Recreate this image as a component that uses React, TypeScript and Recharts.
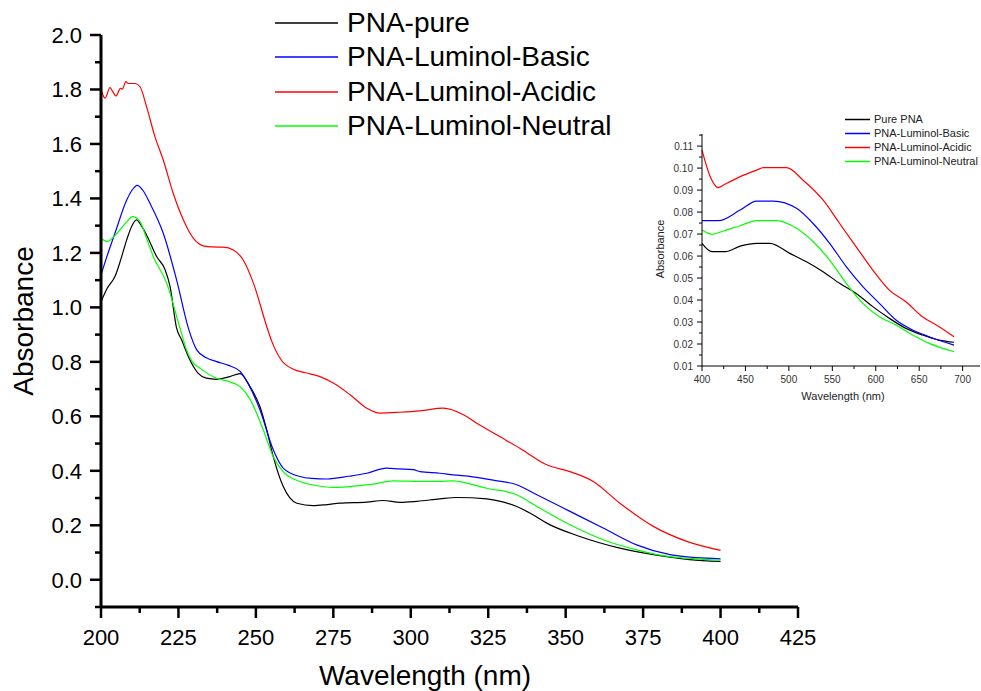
import React from 'react';
import { LineChart, Line, XAxis, YAxis, Label, Legend } from 'recharts';

// main spectrum, 200-400 nm
const pureWl = [200, 202, 204.5, 206.5, 208.3, 210, 211.5, 213, 214.7, 218, 220.7, 222.3, 224.4, 226, 228.7, 231.4, 234, 237.3, 241.6, 244.9, 248.1, 251.3, 253.5, 255.6, 258.8, 263.2, 268.5, 273, 277.1, 285.8, 291.1, 296.5, 302, 309.4, 314.8, 324.5, 330, 334.2, 340, 343.9, 354.6, 367.5, 383.7, 390, 400];
const pureAbs = [1.02, 1.07, 1.113, 1.18, 1.248, 1.3, 1.321, 1.3, 1.266, 1.186, 1.138, 1.076, 0.924, 0.881, 0.807, 0.758, 0.74, 0.736, 0.746, 0.757, 0.709, 0.636, 0.55, 0.452, 0.343, 0.281, 0.272, 0.276, 0.281, 0.285, 0.291, 0.284, 0.288, 0.297, 0.302, 0.297, 0.285, 0.269, 0.235, 0.208, 0.159, 0.116, 0.083, 0.074, 0.067];

const basicWl = [200, 202, 204.5, 208.3, 210, 211.7, 213.5, 215.8, 220.1, 224.4, 228.2, 230.9, 234, 237.3, 241, 244.9, 247.5, 251.3, 255.6, 258.8, 264.2, 268, 272.9, 280, 285.8, 292.2, 296, 300.8, 303, 309.4, 313.7, 320, 327, 334.2, 340.7, 351.4, 362.1, 372.9, 383.7, 392, 400];
const basicAbs = [1.119, 1.19, 1.272, 1.394, 1.43, 1.448, 1.43, 1.382, 1.272, 1.101, 0.924, 0.844, 0.815, 0.801, 0.788, 0.765, 0.72, 0.624, 0.477, 0.41, 0.379, 0.372, 0.37, 0.38, 0.391, 0.41, 0.407, 0.404, 0.397, 0.391, 0.385, 0.378, 0.365, 0.349, 0.312, 0.251, 0.19, 0.128, 0.092, 0.081, 0.077];

const acidicWl = [200, 201.3, 202.9, 203.8, 204.8, 206.3, 206.9, 208, 208.8, 211, 212.6, 214.7, 217.4, 220.1, 223.3, 226.6, 229.8, 233, 236, 239.5, 242.7, 245.9, 249.2, 253.5, 255.1, 258.3, 262.1, 266, 270.7, 275, 280.4, 285.8, 290.1, 296.5, 303, 310.5, 317, 322, 327.7, 335.2, 343.9, 351.4, 358.9, 367.5, 378.3, 389.1, 400];
const acidicAbs = [1.801, 1.768, 1.807, 1.792, 1.776, 1.804, 1.801, 1.829, 1.822, 1.822, 1.81, 1.737, 1.627, 1.541, 1.419, 1.321, 1.254, 1.226, 1.222, 1.221, 1.211, 1.174, 1.089, 0.93, 0.876, 0.805, 0.773, 0.76, 0.746, 0.722, 0.679, 0.63, 0.612, 0.615, 0.62, 0.63, 0.606, 0.57, 0.532, 0.483, 0.422, 0.397, 0.361, 0.281, 0.196, 0.141, 0.108];

const neutralWl = [200, 202, 204, 206.1, 208, 210.2, 212.6, 214.5, 216.9, 221.2, 225.5, 227.6, 229.5, 231.9, 237.3, 241.5, 244.9, 248, 252.4, 255.6, 258.8, 264.2, 268.5, 275, 280, 287.9, 294.4, 303, 309.4, 313.7, 318, 324.5, 334.2, 340.7, 351.4, 362.1, 372.9, 383.7, 392, 400];
const neutralAbs = [1.254, 1.242, 1.258, 1.284, 1.31, 1.333, 1.315, 1.26, 1.186, 1.089, 0.924, 0.844, 0.8, 0.777, 0.74, 0.727, 0.709, 0.665, 0.55, 0.452, 0.397, 0.361, 0.348, 0.339, 0.342, 0.351, 0.363, 0.361, 0.361, 0.363, 0.355, 0.336, 0.312, 0.269, 0.202, 0.147, 0.11, 0.085, 0.077, 0.072];

// inset spectrum, 400-700 nm
const insPureWl = [400, 411.5, 426.7, 443.9, 463, 478.2, 501.1, 520.2, 539.3, 558.4, 577.5, 596.6, 615.6, 634.7, 653.8, 672.9, 690.1];
const insPureAbs = [0.0658, 0.062, 0.062, 0.0645, 0.0658, 0.0658, 0.0612, 0.0574, 0.0529, 0.0476, 0.043, 0.037, 0.0317, 0.0271, 0.0241, 0.0218, 0.0208];
const insBasicWl = [400, 419, 443.9, 463, 482, 508.8, 527.9, 546.9, 566, 585.1, 604.2, 623.3, 642.4, 661.5, 690.1];
const insBasicAbs = [0.0761, 0.0761, 0.0809, 0.085, 0.085, 0.0817, 0.0748, 0.0658, 0.0552, 0.0461, 0.0385, 0.0309, 0.0264, 0.0233, 0.0195];
const insAcidicWl = [400, 409.5, 419, 424.8, 443.9, 463, 470.6, 497.3, 516.4, 539.3, 558.4, 577.5, 596.6, 615.6, 634.7, 653.8, 672.9, 690.1];
const insAcidicAbs = [0.1082, 0.0961, 0.0911, 0.0923, 0.0961, 0.0991, 0.1002, 0.1002, 0.0945, 0.0855, 0.0748, 0.0642, 0.0536, 0.0445, 0.0392, 0.0324, 0.0279, 0.0233];
const insNeutralWl = [400, 411.5, 424.8, 443.9, 463, 485.9, 508.8, 527.9, 546.9, 566, 585.1, 604.2, 623.3, 642.4, 661.5, 690.1];
const insNeutralAbs = [0.0718, 0.0699, 0.0714, 0.0738, 0.0761, 0.0761, 0.0726, 0.0665, 0.0582, 0.0476, 0.0385, 0.0324, 0.0286, 0.0241, 0.0203, 0.0165];

const mainXMajor = [200, 225, 250, 275, 300, 325, 350, 375, 400, 425];
const mainXMinor = [212.5, 237.5, 262.5, 287.5, 312.5, 337.5, 362.5, 387.5, 412.5];
const mainYMajor = [0, 0.2, 0.4, 0.6, 0.8, 1.0, 1.2, 1.4, 1.6, 1.8, 2.0];
const mainYMinor = [-0.1, 0.1, 0.3, 0.5, 0.7, 0.9, 1.1, 1.3, 1.5, 1.7, 1.9];

const insXMajor = [400, 450, 500, 550, 600, 650, 700];
const insXMinor = [425, 475, 525, 575, 625, 675];
const insYMajor = [0.01, 0.02, 0.03, 0.04, 0.05, 0.06, 0.07, 0.08, 0.09, 0.1, 0.11];
const insYMinor = [0.015, 0.025, 0.035, 0.045, 0.055, 0.065, 0.075, 0.085, 0.095, 0.105, 0.115];

const zip = (wl: number[], abs: number[]) => wl.map((w, i) => ({ wl: w, abs: abs[i] }));

const mainSeries = [
  { name: 'PNA-pure', color: '#000000', data: zip(pureWl, pureAbs) },
  { name: 'PNA-Luminol-Basic', color: '#0000ff', data: zip(basicWl, basicAbs) },
  { name: 'PNA-Luminol-Acidic', color: '#ff0000', data: zip(acidicWl, acidicAbs) },
  { name: 'PNA-Luminol-Neutral', color: '#00ff00', data: zip(neutralWl, neutralAbs) },
];

const insetSeries = [
  { name: 'Pure PNA', color: '#000000', data: zip(insPureWl, insPureAbs) },
  { name: 'PNA-Luminol-Basic', color: '#0000ff', data: zip(insBasicWl, insBasicAbs) },
  { name: 'PNA-Luminol-Acidic', color: '#ff0000', data: zip(insAcidicWl, insAcidicAbs) },
  { name: 'PNA-Luminol-Neutral', color: '#00ff00', data: zip(insNeutralWl, insNeutralAbs) },
];

const FONT = '"Liberation Sans", Arial, sans-serif';
const isIn = (list: number[], v: number) => list.some((t) => Math.abs(t - v) < 1e-6);

const MainXTick = (props: any) => {
  const { x, y, payload } = props;
  const major = isIn(mainXMajor, payload.value);
  return (
    <g>
      <line x1={x} y1={y} x2={x} y2={y + (major ? 11 : 6)} stroke="#000" strokeWidth={2.5} />
      {major && (
        <text x={x} y={y + 38} textAnchor="middle" fontSize={22} fontFamily={FONT} fill="#000">
          {payload.value}
        </text>
      )}
    </g>
  );
};

const MainYTick = (props: any) => {
  const { x, y, payload } = props;
  const major = isIn(mainYMajor, payload.value);
  return (
    <g>
      <line x1={x} y1={y} x2={x - (major ? 11 : 6)} y2={y} stroke="#000" strokeWidth={2.5} />
      {major && (
        <text x={x - 19} y={y + 8} textAnchor="end" fontSize={22} fontFamily={FONT} fill="#000">
          {payload.value.toFixed(1)}
        </text>
      )}
    </g>
  );
};

const InsXTick = (props: any) => {
  const { x, y, payload } = props;
  const major = isIn(insXMajor, payload.value);
  return (
    <g>
      <line x1={x} y1={y} x2={x} y2={y + (major ? 5 : 3)} stroke="#000" strokeWidth={1} />
      {major && (
        <text x={x} y={y + 17} textAnchor="middle" fontSize={10} fontFamily={FONT} fill="#333">
          {payload.value}
        </text>
      )}
    </g>
  );
};

const InsYTick = (props: any) => {
  const { x, y, payload } = props;
  const major = isIn(insYMajor, payload.value);
  return (
    <g>
      <line x1={x} y1={y} x2={x - (major ? 5 : 3)} y2={y} stroke="#000" strokeWidth={1} />
      {major && (
        <text x={x - 9} y={y + 3.5} textAnchor="end" fontSize={10} fontFamily={FONT} fill="#333">
          {payload.value.toFixed(2)}
        </text>
      )}
    </g>
  );
};

const MainLegend = () => (
  <div style={{ fontFamily: FONT, fontSize: 28, color: '#000' }}>
    {mainSeries.map((s) => (
      <div key={s.name} style={{ display: 'flex', alignItems: 'center', height: 34.3, whiteSpace: 'nowrap' }}>
        <svg width={63} height={4} style={{ marginRight: 9 }}>
          <line x1={0} y1={2} x2={63} y2={2} stroke={s.color} strokeWidth={1.5} />
        </svg>
        <span>{s.name}</span>
      </div>
    ))}
  </div>
);

const InsetLegend = () => (
  <div style={{ fontFamily: FONT, fontSize: 11, color: '#222' }}>
    {insetSeries.map((s) => (
      <div key={s.name} style={{ display: 'flex', alignItems: 'center', height: 14, whiteSpace: 'nowrap' }}>
        <svg width={25} height={3} style={{ marginRight: 4 }}>
          <line x1={0} y1={1.5} x2={25} y2={1.5} stroke={s.color} strokeWidth={1.5} />
        </svg>
        <span>{s.name}</span>
      </div>
    ))}
  </div>
);

const App = () => {
  return (
    <div style={{ position: 'absolute', left: 0, top: 0, width: 981, height: 691, background: '#fff' }}>
      <LineChart width={981} height={691} margin={{ top: 35, right: 183, bottom: 24, left: 0 }}>
        <XAxis
          dataKey="wl"
          type="number"
          domain={[200, 425]}
          ticks={[...mainXMajor, ...mainXMinor].sort((a, b) => a - b)}
          interval={0}
          height={60}
          tickLine={false}
          tickSize={0}
          tickMargin={0}
          tick={<MainXTick />}
          axisLine={{ stroke: '#000', strokeWidth: 3 }}
          allowDuplicatedCategory={false}
        >
          <Label
            content={() => (
              <text x={425} y={685} textAnchor="middle" fontSize={28} fontFamily={FONT} fill="#000">
                Wavelength (nm)
              </text>
            )}
          />
        </XAxis>
        <YAxis
          dataKey="abs"
          type="number"
          domain={[-0.1, 2.0]}
          ticks={[...mainYMajor, ...mainYMinor].sort((a, b) => a - b)}
          interval={0}
          width={101}
          tickLine={false}
          tickSize={0}
          tickMargin={0}
          tick={<MainYTick />}
          axisLine={{ stroke: '#000', strokeWidth: 3 }}
        >
          <Label
            content={() => (
              <text x={33} y={321} transform="rotate(-90, 33, 321)" textAnchor="middle" fontSize={28} fontFamily={FONT} fill="#000">
                Absorbance
              </text>
            )}
          />
        </YAxis>
        <Legend
          layout="vertical"
          align="center"
          verticalAlign="middle"
          content={() => <MainLegend />}
          wrapperStyle={{ position: 'absolute', left: 275, top: 6, width: 420 }}
        />
        {mainSeries.map((s) => (
          <Line
            key={s.name}
            data={s.data}
            dataKey="abs"
            name={s.name}
            type="monotone"
            stroke={s.color}
            strokeWidth={1.2}
            dot={false}
            isAnimationActive={false}
          />
        ))}
      </LineChart>

      <div style={{ position: 'absolute', left: 630, top: 100, width: 351, height: 310 }}>
        <LineChart width={351} height={310} margin={{ top: 34, right: 1, bottom: 0, left: 0 }}>
          <XAxis
            dataKey="wl"
            type="number"
            domain={[400, 720]}
            ticks={[...insXMajor, ...insXMinor].sort((a, b) => a - b)}
            interval={0}
            height={44}
            tickLine={false}
            tickSize={0}
            tickMargin={0}
            tick={<InsXTick />}
            axisLine={{ stroke: '#000', strokeWidth: 1 }}
            allowDuplicatedCategory={false}
          >
            <Label
              content={() => (
                <text x={213} y={300} textAnchor="middle" fontSize={11} fontFamily={FONT} fill="#222">
                  Wavelength (nm)
                </text>
              )}
            />
          </XAxis>
          <YAxis
            dataKey="abs"
            type="number"
            domain={[0.01, 0.1155]}
            ticks={[...insYMajor, ...insYMinor].sort((a, b) => a - b)}
            interval={0}
            width={72}
            tickLine={false}
            tickSize={0}
            tickMargin={0}
            tick={<InsYTick />}
            axisLine={{ stroke: '#000', strokeWidth: 1 }}
          >
            <Label
              content={() => (
                <text x={34} y={149} transform="rotate(-90, 34, 149)" textAnchor="middle" fontSize={11} fontFamily={FONT} fill="#222">
                  Absorbance
                </text>
              )}
            />
          </YAxis>
          <Legend
            layout="vertical"
            align="center"
            verticalAlign="middle"
            content={() => <InsetLegend />}
            wrapperStyle={{ position: 'absolute', left: 215, top: 12, width: 140 }}
          />
          {insetSeries.map((s) => (
            <Line
              key={s.name}
              data={s.data}
              dataKey="abs"
              name={s.name}
              type="monotone"
              stroke={s.color}
              strokeWidth={1.2}
              dot={false}
              isAnimationActive={false}
            />
          ))}
        </LineChart>
      </div>
    </div>
  );
};

export default App;
